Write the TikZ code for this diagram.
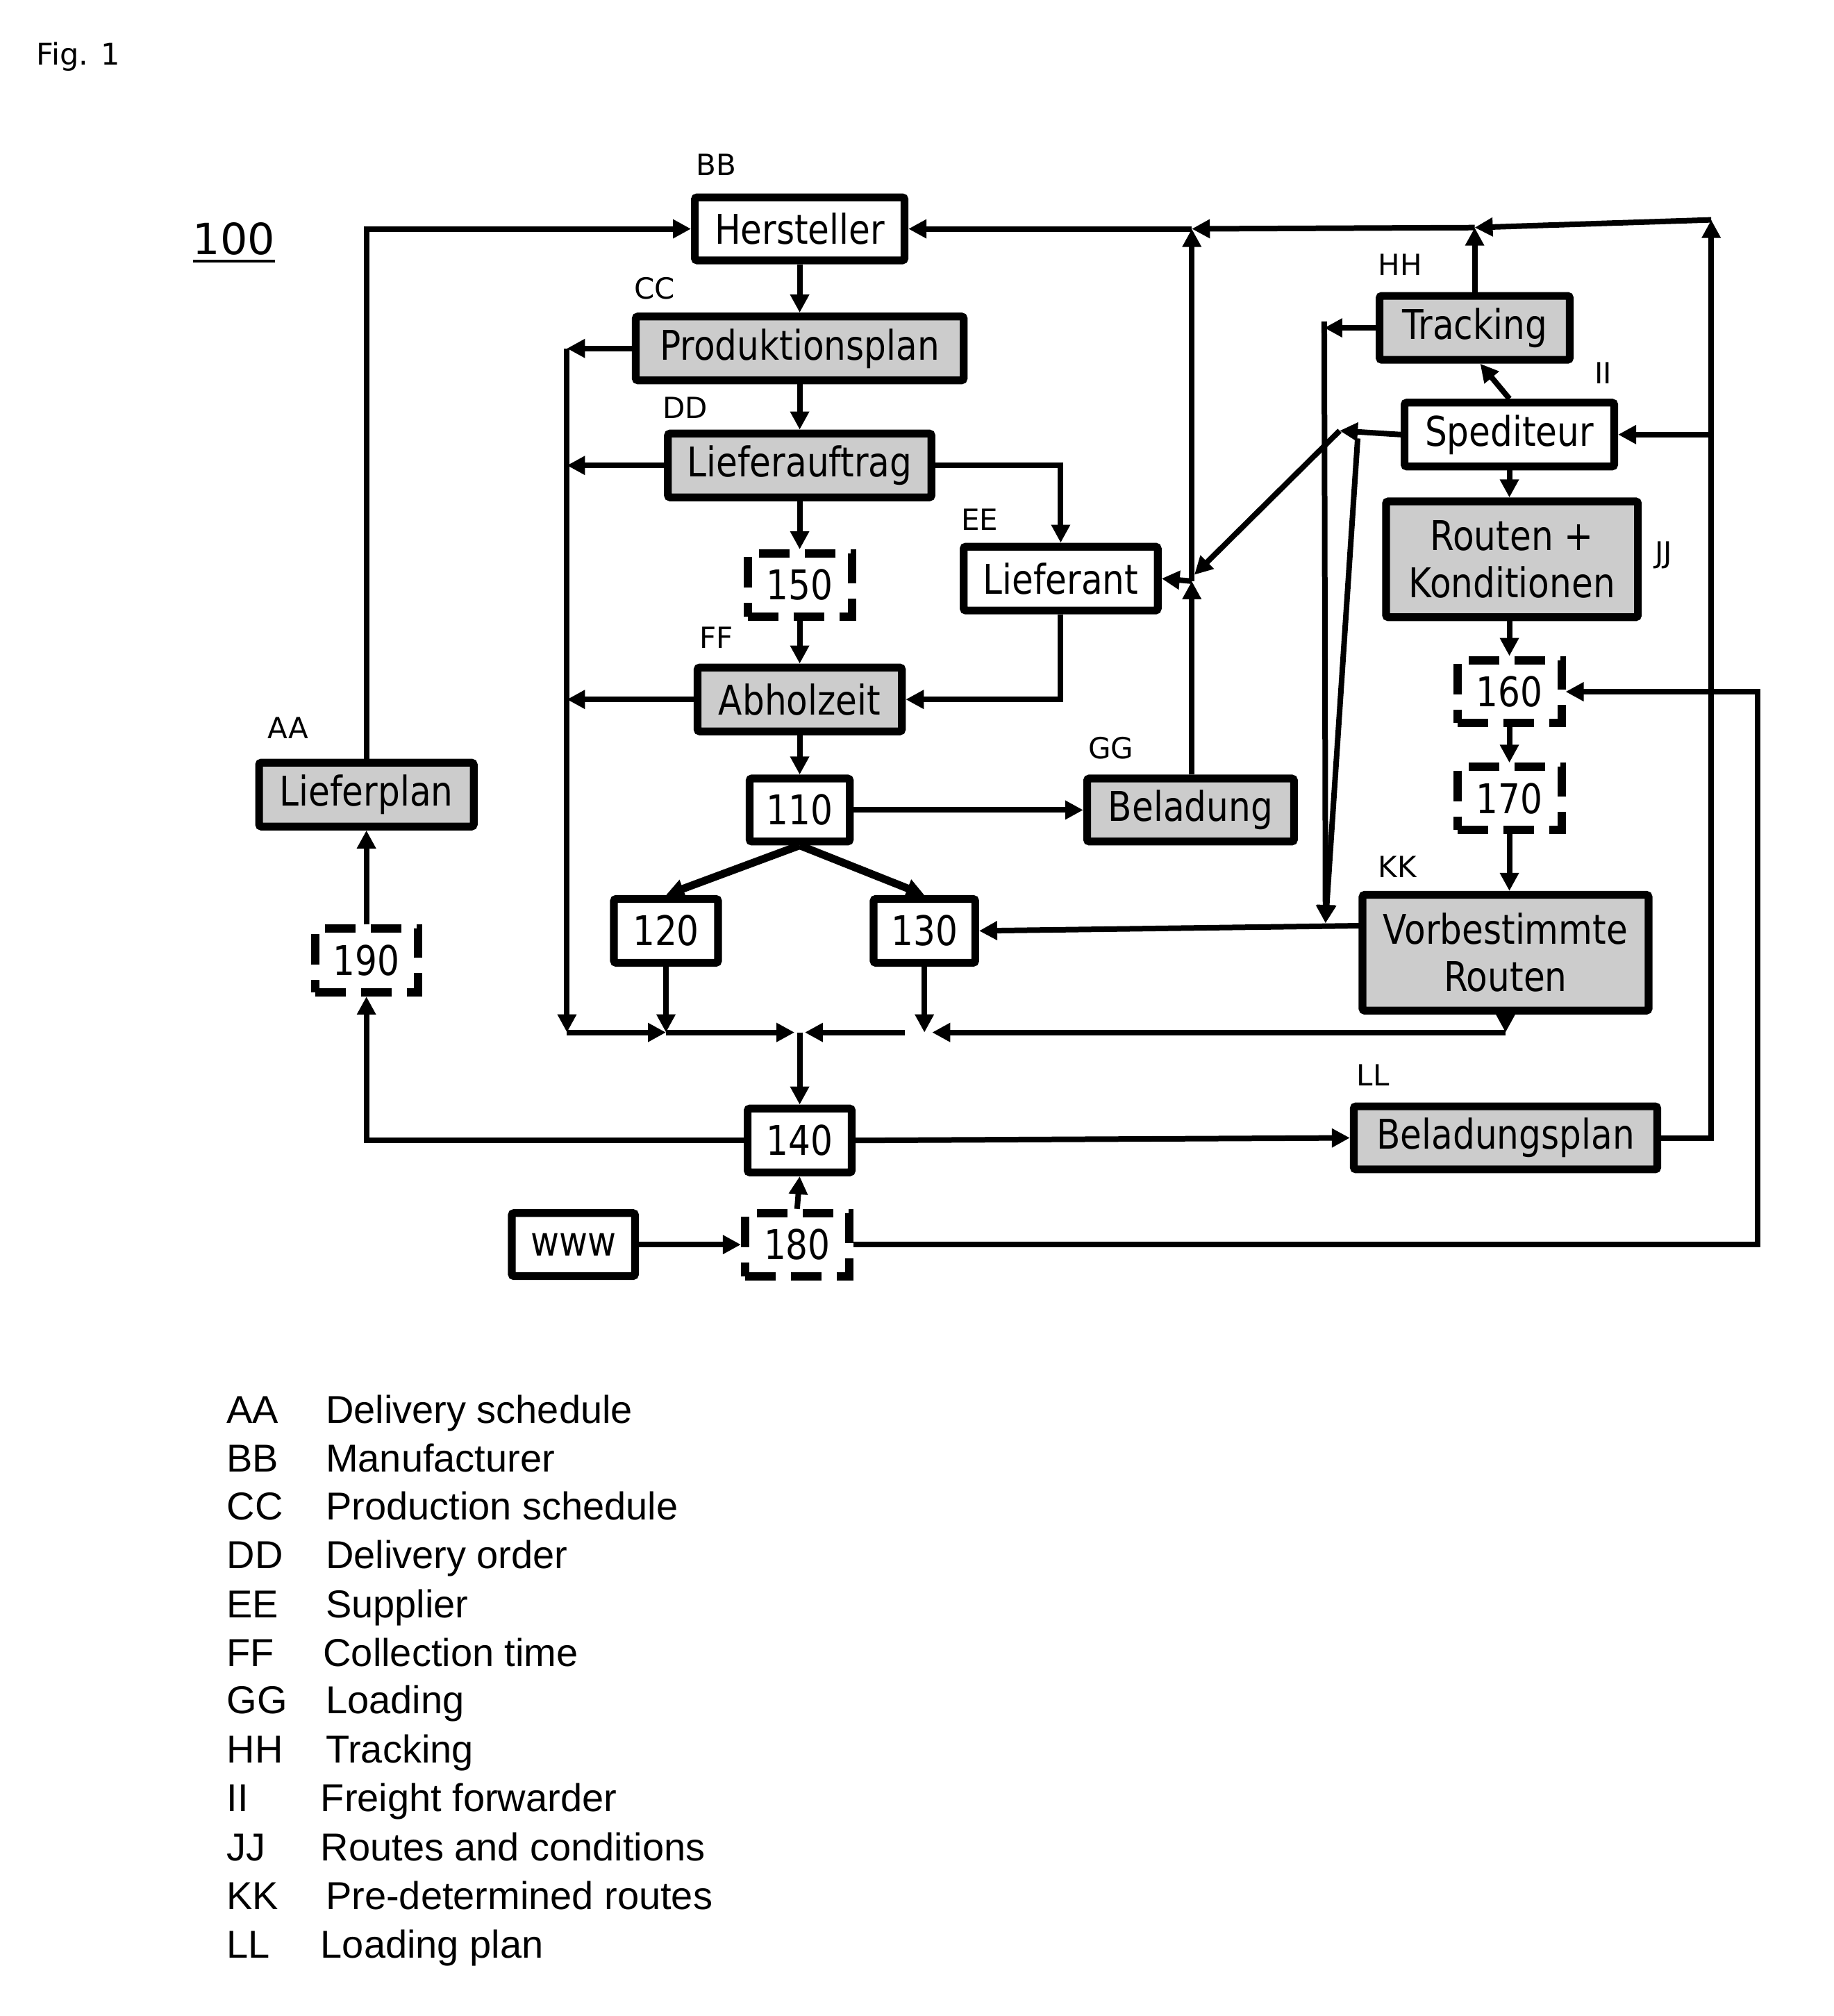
\documentclass[tikz,border=0pt]{standalone}
\usepackage{fontspec}
\setmainfont{DejaVu Sans}
\newfontfamily\boxfont[FakeStretch=0.85]{DejaVu Sans}
\newfontfamily\legfont{Liberation Sans}
\usetikzlibrary{arrows.meta,calc}
\begin{document}
\begin{tikzpicture}[x=0.463pt,y=-0.463pt,
  >={Triangle[length=6.5pt,width=6.5pt]},
  conn/.style={line width=2pt,->},
  box/.style={draw,line width=2.8pt,rounded corners=0.8pt,inner sep=0pt,
     font=\boxfont\fontsize{14.75}{17}\selectfont,align=center,
     minimum height=23pt},
  gbox/.style={box,fill=black!20},
  dbox/.style={box,line width=3pt,rounded corners=0pt,dash pattern=on 11pt off 5.5pt},
  lab/.style={font=\fontsize{10.5}{12}\selectfont},
  lcode/.style={anchor=base west,inner sep=0pt,font=\legfont\fontsize{14}{16}\selectfont},
]
\useasboundingbox (0,0) rectangle (1426,1568);
\fill[white] (0,0) rectangle (1426,1568);

% title
\node[anchor=west,inner sep=0pt,font=\fontsize{10.75}{12}\selectfont] (fig) at (28,44) {Fig. 1};
\node[font=\fontsize{15.5}{17}\selectfont] (hundred) at (182,186) {100};
\draw[line width=1pt] (150,203) -- (214,203);

% nodes
\node[box,minimum width=75.5pt,minimum height=22.7pt] (hersteller) at (622,178) {Hersteller};
\node[gbox,minimum width=118.1pt] (prod) at (622,271) {Produktionsplan};
\node[gbox,minimum width=94.9pt] (auftrag) at (622,362) {Lieferauftrag};
\node[dbox,minimum width=37.5pt,minimum height=22.7pt] (n150) at (622,455) {150};
\node[box,minimum width=69.9pt] (lieferant) at (825,450) {Lieferant};
\node[gbox,minimum width=73.6pt] (abhol) at (622,544) {Abholzeit};
\node[box,minimum width=36.1pt,minimum height=22.7pt] (n110) at (622,630) {110};
\node[gbox,minimum width=74.5pt,minimum height=22.7pt] (beladung) at (926,630) {Beladung};
\node[box,minimum width=37.5pt] (n120) at (518,724) {120};
\node[box,minimum width=36.6pt] (n130) at (719,724) {130};
\node[box,minimum width=37.5pt] (n140) at (622,887) {140};
\node[box,minimum width=44.4pt,minimum height=22.7pt] (www) at (446,968) {www};
\node[dbox,minimum width=37.5pt,minimum height=22.7pt] (n180) at (620,968) {180};
\node[gbox,minimum width=77.3pt] (lieferplan) at (285,618) {Lieferplan};
\node[dbox,minimum width=37pt] (n190) at (285,747) {190};
\node[gbox,minimum width=68.5pt] (tracking) at (1147,255) {Tracking};
\node[box,minimum width=75.5pt] (spediteur) at (1174,338) {Spediteur};
\node[gbox,minimum width=90.7pt,minimum height=41.7pt] (routen) at (1176,435) {Routen +\\Konditionen};
\node[dbox,minimum width=37.5pt,minimum height=22.7pt] (n160) at (1174,538) {160};
\node[dbox,minimum width=37.5pt,minimum height=22.7pt] (n170) at (1174,621) {170};
\node[gbox,minimum width=103pt,minimum height=41.7pt] (vorb) at (1171,741) {Vorbestimmte\\Routen};
\node[gbox,minimum width=109.3pt,minimum height=22.7pt] (beladungsplan) at (1171,885) {Beladungsplan};

% reference labels
\node[lab] (lAA) at (224,566) {AA};
\node[lab] (lBB) at (557,128) {BB};
\node[lab] (lCC) at (509,224) {CC};
\node[lab] (lDD) at (533,317) {DD};
\node[lab] (lEE) at (762,404) {EE};
\node[lab] (lFF) at (557,496) {FF};
\node[lab] (lGG) at (864,582) {GG};
\node[lab] (lHH) at (1089,206) {HH};
\node[lab] (lII) at (1247,290) {II};
\node[lab] (lJJ) at (1294,432) {JJ};
\node[lab] (lKK) at (1087,674) {KK};
\node[lab] (lLL) at (1068,836) {LL};

% coordinates
\coordinate (LB) at (441,803);
\coordinate (J1) at (518,803);
\coordinate (J2) at (622,803);
\coordinate (J2l) at (618,803);
\coordinate (J2r) at (626,803);
\coordinate (J3l) at (704,803);
\coordinate (J3) at (719,803);
\coordinate (J3r) at (725,803);
\coordinate (BJ) at (927,452);
\coordinate (BJd) at (929,447);
\coordinate (BT) at (927,178);
\coordinate (TT) at (1147,177);
\coordinate (RT) at (1331,171);
\coordinate (TBt) at (1030,250);
\coordinate (TB) at (1031,718);
\coordinate (SJ) at (1042,335);
\coordinate (SJ2) at (1056,341);
\coordinate (VL) at (1057,720);
\coordinate (RR) at (1367,538);

% main column
\draw[conn] (lieferplan.north) |- (hersteller.west);
\draw[conn] (hersteller.south) -- (prod.north);
\draw[conn] (prod.south) -- (auftrag.north);
\draw[conn] (auftrag.south) -- (n150.north);
\draw[conn] (n150.south) -- (abhol.north);
\draw[conn] (abhol.south) -- (n110.north);
\draw[conn] (auftrag.east) -| (lieferant.north);
\draw[conn] (lieferant.south) |- (abhol.east);

% left bus
\draw[conn] (prod.west) -- (prod.west -| LB);
\draw[conn] (auftrag.west) -- (auftrag.west -| LB);
\draw[conn] (abhol.west) -- (abhol.west -| LB);
\draw[conn] (prod.west -| LB) -- (LB);

% bottom bus
\draw[conn] (LB) -- (J1);
\draw[conn] (n120.south) -- (J1);
\draw[conn] (J1) -- (J2l);
\draw[conn] (J3l) -- (J2r);
\draw[conn] (n130.south) -- (J3);
\draw[conn] (vorb.south) -- (vorb.south |- J3);
\draw[conn] (vorb.south |- J3) -- (J3r);
\draw[conn] (J2) -- (n140.north);

% 110 branches
\draw[conn,line width=2.8pt] (n110.south) -- (n120.north);
\draw[conn,line width=2.8pt] (n110.south) -- (n130.north);
\draw[conn] (n110.east) -- (beladung.west);

% Beladung bus
\draw[conn] (beladung.north -| BJ) -- (BJ);
\draw[conn] (BJ) -- (BT);
\draw[conn] (BJ) -- (lieferant.east);

% top line
\draw[conn] (BT) -- (hersteller.east);
\draw[conn] (TT) -- (BT);
\draw[conn] (RT) -- (TT);
\draw[conn] (tracking.north) -- (TT);

% right bus
\draw[conn] (beladungsplan.east) -| (RT);
\draw[conn] (spediteur.east -| RT) -- (spediteur.east);

% tracking bus
\draw[conn] (tracking.west) -- (tracking.west -| TBt);
\draw[conn] (TBt) -- (TB);
\draw[conn] (spediteur.west) -- (SJ);
\draw[conn] (SJ) -- (BJd);
\draw[conn] (SJ2) -- (TB);
\draw[conn] (VL) -- (n130.east);

% forwarder column
\draw[conn] (spediteur.north) -- ([xshift=2pt]tracking.south);
\draw[conn] (spediteur.south) -- (spediteur.south |- routen.north);
\draw[conn] (n160.north |- routen.south) -- (n160.north);
\draw[conn] (n160.south) -- (n170.north);
\draw[conn] (n170.south) -- (n170.south |- vorb.north);

% bottom
\draw[conn] (n180.east) -| (RR) -- (n160.east);
\draw[conn] (www.east) -- (n180.west);
\draw[conn] (n180.north) -- (n140.south);
\draw[conn] (n140.west) -| (n190.south);
\draw[conn] (n190.north) -- (lieferplan.south);
\draw[conn] (n140.east) -- (beladungsplan.west);

% legend
\node[lcode] (cAA) at (176,1107) {AA};  \node[lcode] (tAA) at (253,1107) {Delivery schedule};
\node[lcode] (cBB) at (176,1145) {BB};  \node[lcode] (tBB) at (253,1145) {Manufacturer};
\node[lcode] (cCC) at (176,1182) {CC};  \node[lcode] (tCC) at (253,1182) {Production schedule};
\node[lcode] (cDD) at (176,1220) {DD};  \node[lcode] (tDD) at (253,1220) {Delivery order};
\node[lcode] (cEE) at (176,1258) {EE};  \node[lcode] (tEE) at (253,1258) {Supplier};
\node[lcode] (cFF) at (176,1296) {FF};  \node[lcode] (tFF) at (251,1296) {Collection time};
\node[lcode] (cGG) at (176,1333) {GG};  \node[lcode] (tGG) at (253,1333) {Loading};
\node[lcode] (cHH) at (176,1371) {HH};  \node[lcode] (tHH) at (253,1371) {Tracking};
\node[lcode] (cII) at (176,1409) {II};  \node[lcode] (tII) at (249,1409) {Freight forwarder};
\node[lcode] (cJJ) at (176,1447) {JJ};  \node[lcode] (tJJ) at (249,1447) {Routes and conditions};
\node[lcode] (cKK) at (176,1485) {KK};  \node[lcode] (tKK) at (253,1485) {Pre-determined routes};
\node[lcode] (cLL) at (176,1523) {LL};  \node[lcode] (tLL) at (249,1523) {Loading plan};
\end{tikzpicture}
\end{document}
